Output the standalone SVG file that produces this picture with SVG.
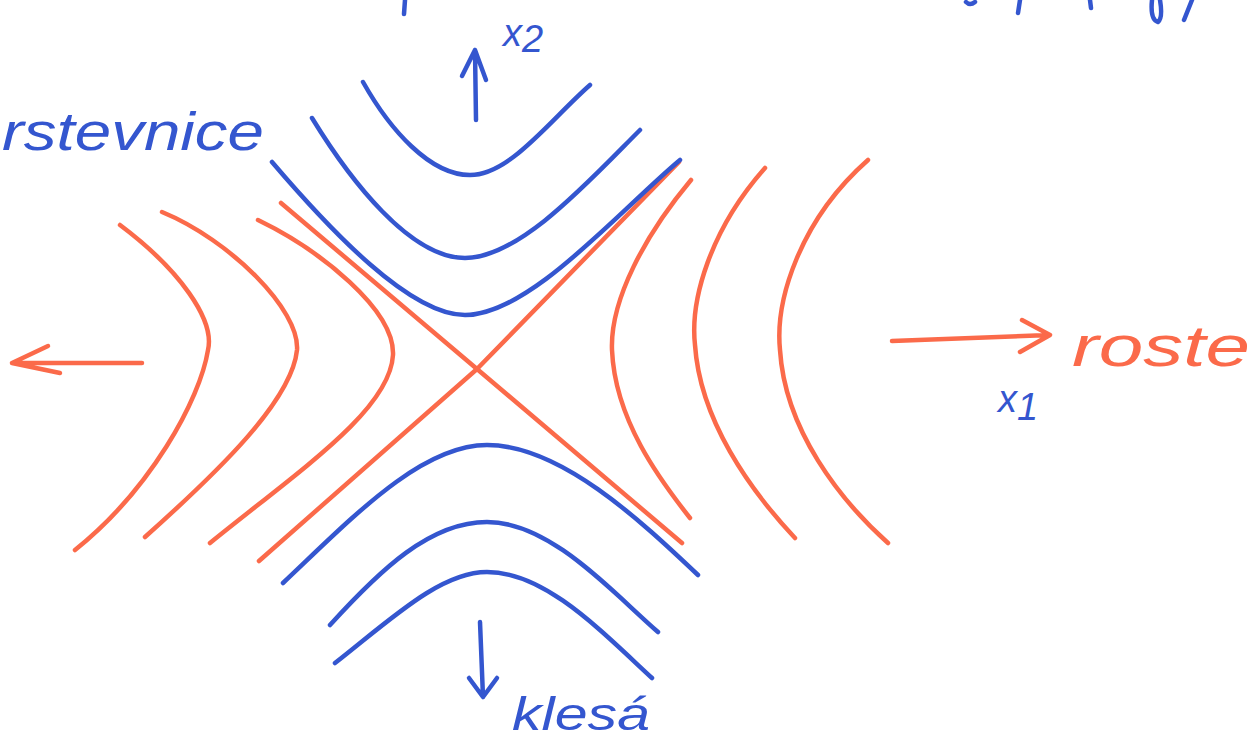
<svg xmlns="http://www.w3.org/2000/svg" width="1255" height="742" viewBox="0 0 1255 742">
<style>
.b{fill:none;stroke:#3456cf;stroke-width:4.5;stroke-linecap:round;stroke-linejoin:round}
.o{fill:none;stroke:#fb6a4a;stroke-width:4.5;stroke-linecap:round;stroke-linejoin:round}
.tb{fill:#3456cf;font-family:"Liberation Sans",sans-serif;font-style:italic}
.to{fill:#fb6a4a;font-family:"Liberation Sans",sans-serif;font-style:italic}
</style>
<rect width="1255" height="742" fill="#fff"/>
<g id="fragments">
<path class="b" d="M405,0 L404,14"/>
<path class="b" d="M966,2 Q970,6 975,2"/>
<path class="b" d="M1020,0 L1018,13"/>
<path class="b" d="M1090,0 L1091,8"/>
<path class="b" d="M1152,0 Q1150,20 1158,22 Q1163,18 1160,0"/>
<path class="b" d="M1192,0 L1184,20"/>
</g>
<g id="connectors">
<g id="orange-curves">
<path class="o" d="M120,225 C180,270 215,320 208,350 C200,400 150,490 75,550"/>
<path class="o" d="M162,212 C230,240 300,310 297,350 C292,400 220,470 145,537"/>
<path class="o" d="M258,220 C320,250 395,310 393,355 C390,410 300,470 210,543"/>
<path class="o" d="M281,203 L477,369 L682,543"/>
<path class="o" d="M259,561 L477,369 L679,162"/>
<path class="o" d="M691,180 C645,235 610,300 612,350 C615,420 660,480 690,518"/>
<path class="o" d="M765,168 C710,230 690,300 695,345 C700,420 750,490 795,538"/>
<path class="o" d="M868,160 C800,220 775,300 780,350 C785,430 840,500 888,543"/>
</g>
<g id="blue-curves">
<path class="b" d="M363,82 C390,130 430,175 470,175 C510,175 550,120 590,85"/>
<path class="b" d="M312,118 C350,180 410,258 465,258 C520,258 590,180 640,130"/>
<path class="b" d="M272,162 C330,230 410,315 465,315 C530,315 620,210 680,160"/>
<path class="b" d="M283,583 C350,520 420,445 487,445 C560,445 640,520 698,575"/>
<path class="b" d="M330,625 C380,570 430,522 487,522 C550,522 610,590 658,632"/>
<path class="b" d="M335,663 C390,620 440,572 487,572 C545,572 600,630 652,678"/>
</g>
<g id="arrows">
<path class="b" d="M476,120 L475,50 M462,76 L475,50 L486,80"/>
<path class="b" d="M480,622 L483,697 M469,678 L483,697 L497,678"/>
<path class="o" d="M142,363 L12,363 M48,346 L12,363 L60,373"/>
<path class="o" d="M892,341 L1050,335 M1022,320 L1050,335 L1020,352"/>
</g>
</g>
<g id="label-x2"><text class="tb" x="503" y="46" font-size="38">x<tspan dy="6">2</tspan></text></g>
<g id="label-rstevnice"><text class="tb" x="2" y="150" font-size="54" textLength="262" lengthAdjust="spacingAndGlyphs">rstevnice</text></g>
<g id="label-roste"><text class="to" x="1072" y="366" font-size="58" textLength="178" lengthAdjust="spacingAndGlyphs">roste</text></g>
<g id="label-x1"><text class="tb" x="998" y="412" font-size="38">x<tspan dy="8">1</tspan></text></g>
<g id="label-klesa"><text class="tb" x="512" y="730" font-size="46" textLength="138" lengthAdjust="spacingAndGlyphs">klesá</text></g>
</svg>
